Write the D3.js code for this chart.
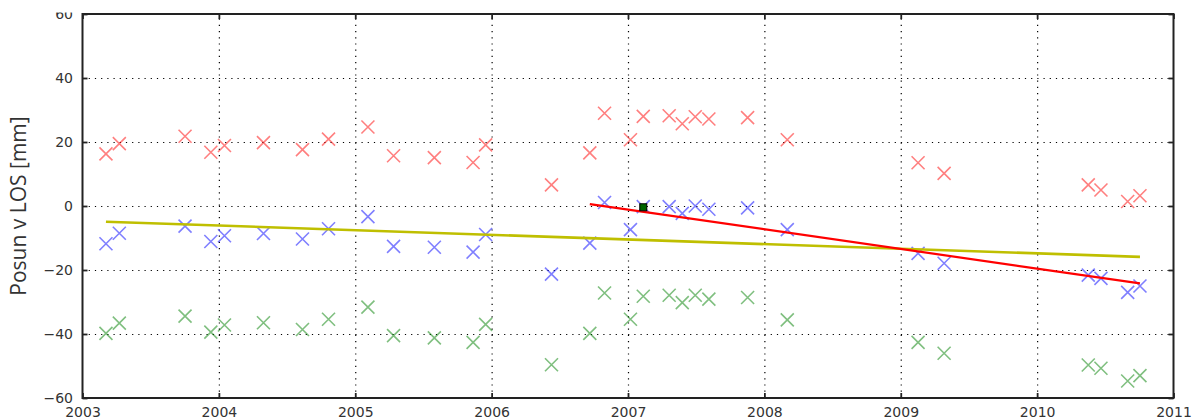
<!DOCTYPE html>
<html>
<head>
    <meta charset="utf-8">
    <script src="https://d3js.org/d3.v7.min.js"></script>
    <style>
        body { margin: 0; background: #fff; }
        .tick-label text { font-family: "DejaVu Sans", sans-serif; font-size: 14px; fill: #333; }
        .grid line { stroke: #000; stroke-width: 1.2; stroke-dasharray: 1.2,5; }
        .grid path { display: none; }
        .inner-ticks line { stroke: #222; stroke-width: 1.8; }
        .inner-ticks path { display: none; }
        .axis-label { font-family: "Open Sans", sans-serif; font-size: 21px; fill: #333; }
    </style>
</head>
<body>
    <svg width="1192" height="419"></svg>
    <script>
        // acquisition dates (decimal years)
        var dates = [2003.172, 2003.270, 2003.752, 2003.941, 2004.041, 2004.327, 2004.613, 2004.804,
                     2005.093, 2005.281, 2005.580, 2005.864, 2005.956, 2006.439, 2006.720, 2006.828,
                     2007.018, 2007.112, 2007.302, 2007.398, 2007.493, 2007.593, 2007.877, 2008.168,
                     2009.127, 2009.318, 2010.375, 2010.468, 2010.664, 2010.754];

        var redVals = [16.3, 19.5, 21.8, 16.8, 18.9, 19.8, 17.6, 20.9, 24.7, 15.7, 15.1, 13.6,
                       19.1, 6.6, 16.6, 29.0, 20.7, 28.0, 28.2, 25.7, 27.9, 27.2, 27.6, 20.7,
                       13.5, 10.2, 6.6, 5.0, 1.4, 3.2];
        var blueVals = [-11.8, -8.5, -6.3, -11.1, -9.3, -8.6, -10.3, -7.1, -3.3, -12.6, -12.9, -14.4,
                        -8.9, -21.3, -11.6, 1.1, -7.4, -0.2, -0.2, -2.3, 0.0, -1.0, -0.6, -7.4,
                        -14.8, -17.9, -21.6, -22.6, -27.0, -25.0];
        var greenVals = [-39.8, -36.6, -34.4, -39.4, -37.2, -36.5, -38.6, -35.4, -31.6, -40.5, -41.2, -42.6,
                         -37.0, -49.6, -39.8, -27.2, -35.4, -28.2, -27.9, -30.2, -27.9, -29.1, -28.6, -35.6,
                         -42.6, -46.0, -49.7, -50.7, -54.7, -53.0];

        // fitted lines
        var yellowX = [2003.172, 2010.754], yellowY = [-4.9, -15.9];
        var redLineX = [2006.72, 2010.754], redLineY = [0.6, -24.2];

        // reference point
        var refX = [2007.112], refY = [-0.4];

        var xTicks = [2003, 2004, 2005, 2006, 2007, 2008, 2009, 2010, 2011];
        var yTicks = [-60, -40, -20, 0, 20, 40, 60];

        var svg = d3.select("svg"),
            margin = {top: 14, right: 18.5, bottom: 21, left: 82.5},
            width = 1192 - margin.left - margin.right,
            height = 419 - margin.top - margin.bottom;

        var x = d3.scaleLinear().domain([2003, 2011]).range([0, width]);
        var y = d3.scaleLinear().domain([-60, 60]).range([height, 0]);

        var g = svg.append("g")
                   .attr("transform", "translate(" + margin.left + "," + margin.top + ")");

        // dotted grid
        g.append("g").attr("class", "grid")
         .attr("transform", "translate(0," + height + ")")
         .call(d3.axisBottom(x).tickValues(xTicks.slice(1, -1)).tickSize(-height).tickFormat(""));
        g.append("g").attr("class", "grid")
         .call(d3.axisLeft(y).tickValues(yTicks.slice(1, -1)).tickSize(-width).tickFormat(""));

        // tick labels
        var xa = g.append("g").attr("class", "tick-label")
         .attr("transform", "translate(0," + height + ")")
         .call(d3.axisBottom(x).tickValues(xTicks).tickSize(0).tickPadding(9).tickFormat(d3.format("d")));
        xa.select(".domain").remove();

        // the top label is cut off in the original picture
        svg.append("clipPath").attr("id", "topclip")
           .append("rect").attr("x", -margin.left).attr("y", 12.5 - margin.top)
           .attr("width", 1192).attr("height", 419);
        var ya = g.append("g").attr("class", "tick-label")
         .call(d3.axisLeft(y).tickValues(yTicks).tickSize(0).tickPadding(9.5).tickFormat(d3.format("d")));
        ya.select(".domain").remove();
        ya.attr("clip-path", "url(#topclip)");

        // inward ticks on all four sides
        g.append("g").attr("class", "inner-ticks")
         .attr("transform", "translate(0," + height + ")")
         .call(d3.axisBottom(x).tickValues(xTicks).tickSize(-5).tickFormat(""));
        g.append("g").attr("class", "inner-ticks")
         .call(d3.axisTop(x).tickValues(xTicks).tickSize(-5).tickFormat(""));
        g.append("g").attr("class", "inner-ticks")
         .call(d3.axisLeft(y).tickValues(yTicks).tickSize(-5).tickFormat(""));
        g.append("g").attr("class", "inner-ticks")
         .attr("transform", "translate(" + width + ",0)")
         .call(d3.axisRight(y).tickValues(yTicks).tickSize(-5).tickFormat(""));

        // x markers
        var series = [
            {vals: redVals, color: "rgb(255,0,0)"},
            {vals: blueVals, color: "rgb(0,0,255)"},
            {vals: greenVals, color: "rgb(0,128,0)"}
        ];
        var s = 6.5;
        series.forEach(function(ser) {
            g.selectAll(null)
             .data(dates.map(function(d, i) { return [d, ser.vals[i]]; }))
             .enter().append("path")
             .attr("d", function(d) {
                 var cx = x(d[0]), cy = y(d[1]);
                 return "M" + (cx - s) + "," + (cy - s) + "L" + (cx + s) + "," + (cy + s) +
                        "M" + (cx - s) + "," + (cy + s) + "L" + (cx + s) + "," + (cy - s);
             })
             .attr("stroke", ser.color)
             .attr("stroke-opacity", 0.5)
             .attr("stroke-width", 1.6)
             .attr("fill", "none");
        });

        var line = d3.line().x(function(d) { return x(d[0]); }).y(function(d) { return y(d[1]); });

        g.append("path")
         .datum(yellowX.map(function(d, i) { return [d, yellowY[i]]; }))
         .attr("d", line)
         .attr("stroke", "#bfbf00").attr("stroke-width", 2.6).attr("fill", "none");

        g.append("path")
         .datum(redLineX.map(function(d, i) { return [d, redLineY[i]]; }))
         .attr("d", line)
         .attr("stroke", "#ff0000").attr("stroke-width", 2.2).attr("fill", "none");

        g.selectAll(".ref")
         .data(refX.map(function(d, i) { return [d, refY[i]]; }))
         .enter().append("rect")
         .attr("x", function(d) { return x(d[0]) - 3.5; })
         .attr("y", function(d) { return y(d[1]) - 3.5; })
         .attr("width", 7).attr("height", 7)
         .attr("fill", "#006400").attr("stroke", "#000").attr("stroke-width", 1);

        // frame
        g.append("rect")
         .attr("width", width).attr("height", height)
         .attr("fill", "none").attr("stroke", "#222").attr("stroke-width", 2);

        g.append("text")
         .attr("class", "axis-label")
         .attr("transform", "rotate(-90)")
         .attr("x", -(206 - margin.top))
         .attr("y", 26 - margin.left)
         .attr("text-anchor", "middle")
         .text("Posun v LOS [mm]");
    </script>
</body>
</html>
